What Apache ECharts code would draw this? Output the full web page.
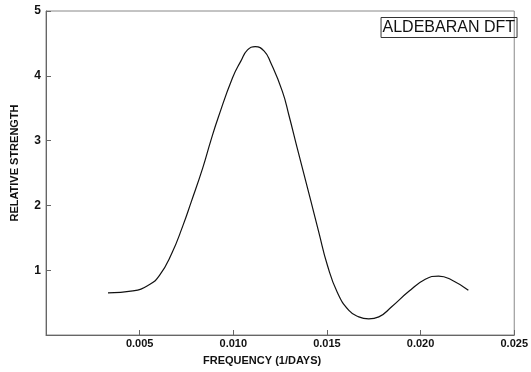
<!DOCTYPE html>
<html>
<head>
<meta charset="utf-8">
<script src="https://cdn.jsdelivr.net/npm/echarts@6/dist/echarts.min.js"></script>
<style>
  html, body { margin: 0; padding: 0; background: #fff; }
  #chart { width: 531px; height: 372px; }
</style>
</head>
<body>
<div id="chart"></div>
<script>
// DFT curve
var freq = [0.00331, 0.00464, 0.00553, 0.00606, 0.0067, 0.0073, 0.00775, 0.00837,
            0.0088, 0.0092, 0.00996, 0.01041, 0.01076, 0.01117, 0.01165, 0.012, 0.01262,
            0.01298, 0.0134, 0.01413, 0.01457, 0.01502, 0.01555, 0.01617, 0.0167, 0.01723,
            0.01777, 0.01847, 0.01936, 0.02025, 0.02096, 0.02166, 0.02255];
var strength = [0.65, 0.68, 0.78, 0.92, 1.25, 1.68, 2.05, 2.58,
                3.0, 3.36, 3.97, 4.23, 4.40, 4.45, 4.38, 4.20, 3.76,
                3.38, 2.90, 2.08, 1.58, 1.08, 0.66, 0.38, 0.28, 0.25,
                0.28, 0.44, 0.67, 0.86, 0.91, 0.85, 0.69];
var xTicks = [0, 0.005, 0.010, 0.015, 0.020, 0.025];
var yTicks = [0, 1, 2, 3, 4, 5];

var points = [];
for (var i = 0; i < freq.length; i++) {
    points.push([freq[i], strength[i]]);
}

var myChart = echarts.init(document.getElementById("chart"), null, {renderer: "canvas"});
var option = {
    animation: false,
    backgroundColor: "#fff",
    title: {
        text: "ALDEBARAN DFT",
        right: 14,
        top: 17,
        padding: [3, 2, 2, 2],
        borderColor: "#333",
        borderWidth: 1,
        textStyle: {fontFamily: "Liberation Sans", fontSize: 16, fontWeight: "normal", color: "#111"}
    },
    grid: {
        left: 46, right: 14, top: 11, bottom: 37,
        show: true, borderColor: "#888", borderWidth: 1
    },
    xAxis: {
        type: "value",
        min: xTicks[0],
        max: xTicks[xTicks.length - 1],
        interval: 0.005,
        name: "FREQUENCY (1/DAYS)",
        nameLocation: "middle",
        nameGap: 20,
        nameTextStyle: {fontFamily: "Liberation Sans", fontSize: 11, fontWeight: "bold", color: "#111",
                        padding: [0, 36, 0, 0]},
        axisLine: {lineStyle: {color: "#666"}},
        axisTick: {inside: true, length: 5, lineStyle: {color: "#666"}},
        splitLine: {show: false},
        axisLabel: {
            fontFamily: "Liberation Sans", fontSize: 11, fontWeight: "bold", color: "#111", margin: 3,
            formatter: function (v) { return v === 0 ? "" : v.toFixed(3); }
        }
    },
    yAxis: {
        type: "value",
        min: yTicks[0],
        max: yTicks[yTicks.length - 1],
        interval: 1,
        name: "RELATIVE STRENGTH",
        nameLocation: "middle",
        nameGap: 26,
        nameTextStyle: {fontFamily: "Liberation Sans", fontSize: 11, fontWeight: "bold", color: "#111",
                        padding: [0, 0, 0, 20]},
        axisLine: {show: true, lineStyle: {color: "#666"}},
        axisTick: {show: true, inside: true, length: 5, lineStyle: {color: "#666"}},
        splitLine: {show: false},
        axisLabel: {
            fontFamily: "Liberation Sans", fontSize: 12, fontWeight: "bold", color: "#111", margin: 5,
            formatter: function (v) { return v === 0 ? "" : String(v); }
        }
    },
    series: [{
        type: "line",
        data: points,
        smooth: 0.5,
        showSymbol: false,
        lineStyle: {color: "#111", width: 1.2}
    }]
};
myChart.setOption(option);
</script>
</body>
</html>
